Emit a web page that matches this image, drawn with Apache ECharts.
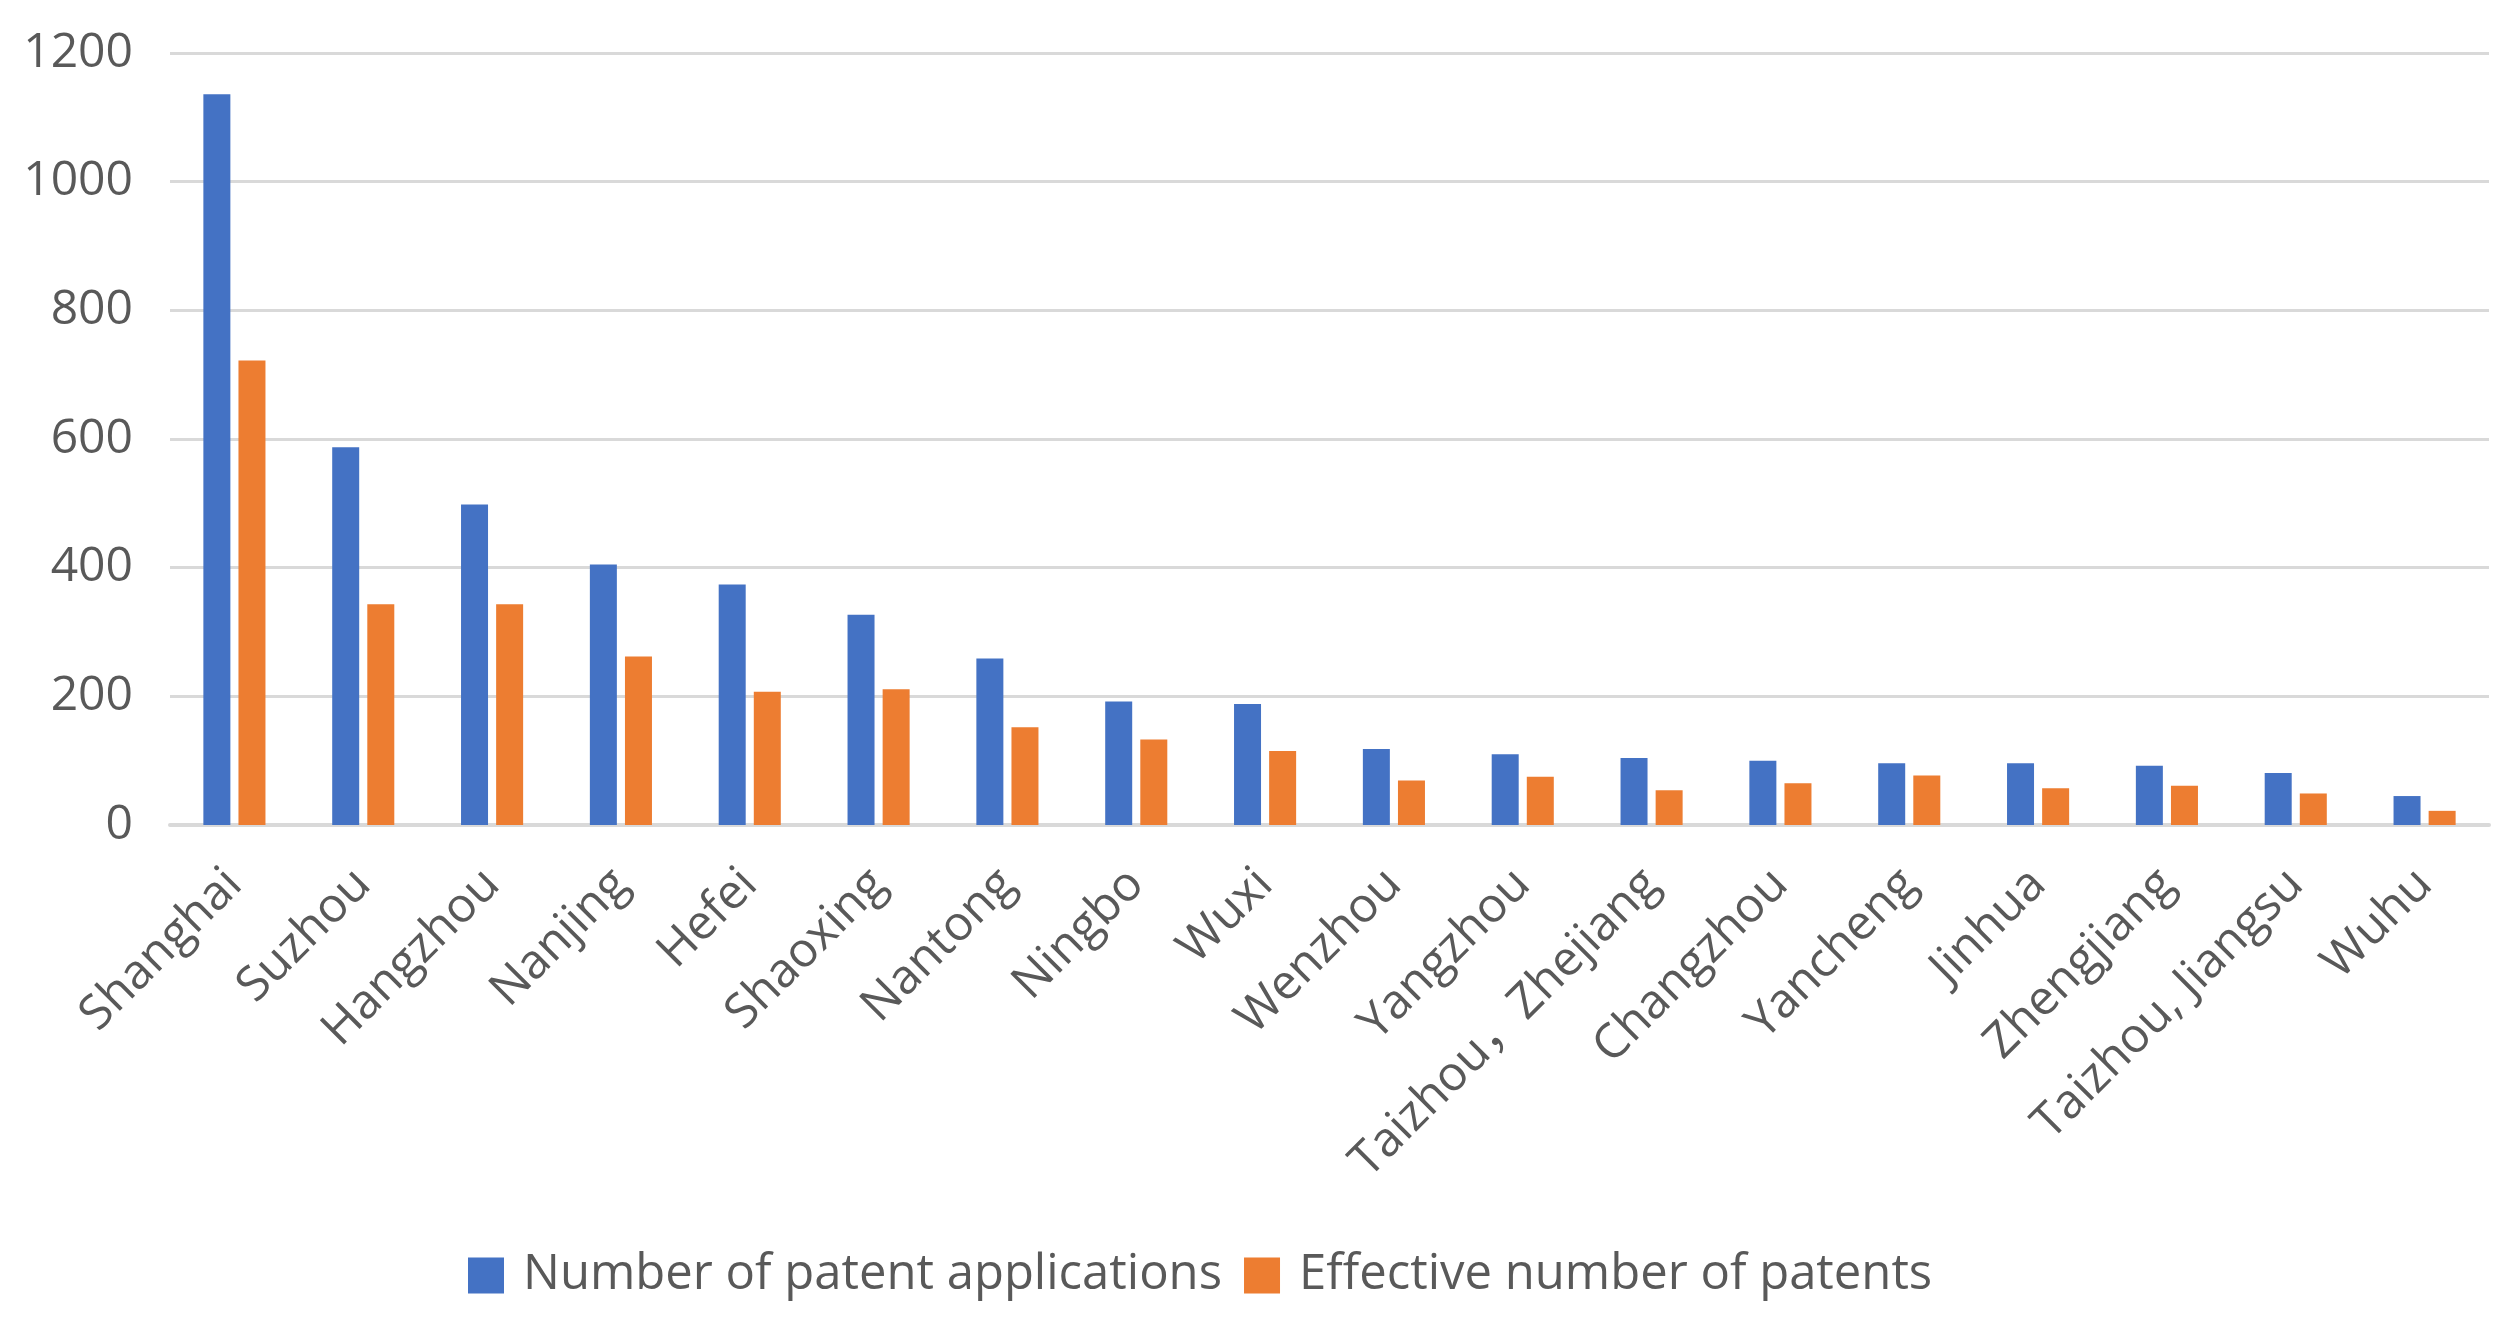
<!DOCTYPE html>
<html>
<head>
<meta charset="utf-8">
<script src="https://cdn.jsdelivr.net/npm/echarts@6/dist/echarts.min.js"></script>
<style>
html,body{margin:0;padding:0;background:#fff;}
#chart{width:2516px;height:1332px;}
</style>
</head>
<body>
<div id="chart"></div>
<script>
const categories = ["Shanghai","Suzhou","Hangzhou","Nanjing","Hefei","Shaoxing","Nantong","Ningbo","Wuxi","Wenzhou","Yangzhou","Taizhou，Zhejiang","Changzhou","Yancheng","Jinhua","Zhengjiang","Taizhou, Jiangsu","Wuhu"];
const applications = [1136,587,498,405,374,327,259,192,188,118,110,104,100,96,96,92,81,45];
const effective = [722,343,343,262,207,211,152,133,115,69,75,54,65,77,57,61,49,22];
const seriesNames = ["Number of patent applications","Effective number of patents"];
const yTicks = {min:0,max:1200,interval:200};

const font = "'Open Sans', 'Noto Sans CJK SC', sans-serif";
const chart = echarts.init(document.getElementById('chart'));
chart.setOption({
  backgroundColor:'#ffffff',
  animation:false,
  textStyle:{fontFamily:font},
  grid:{left:170,right:27,top:53,bottom:507,containLabel:false},
  legend:{
    left:463, top:1246,
    itemWidth:36, itemHeight:36, itemGap:22,
    icon:'rect',
    textStyle:{fontSize:49,color:'#595959',fontFamily:font,lineHeight:49,padding:[0,0,0,14]},
    data:seriesNames
  },
  xAxis:{
    type:'category',
    data:categories,
    axisLine:{show:true,lineStyle:{color:'#D9D9D9',width:4}},
    axisTick:{show:false},
    axisLabel:{rotate:45,fontSize:48,color:'#595959',margin:52,interval:0,fontFamily:font}
  },
  yAxis:{
    type:'value',
    min:yTicks.min,max:yTicks.max,interval:yTicks.interval,
    axisLine:{show:false},
    axisTick:{show:false},
    axisLabel:{fontSize:48,color:'#595959',margin:37,fontFamily:font,formatter:function(v){return String(v);}},
    splitLine:{lineStyle:{color:'#D9D9D9',width:3}}
  },
  series:[
    {name:seriesNames[0],type:'bar',data:applications,barWidth:27,barGap:'30%',itemStyle:{color:'#4472C4'}},
    {name:seriesNames[1],type:'bar',data:effective,barWidth:27,barGap:'30%',itemStyle:{color:'#ED7D31'}}
  ]
});
</script>
</body>
</html>
